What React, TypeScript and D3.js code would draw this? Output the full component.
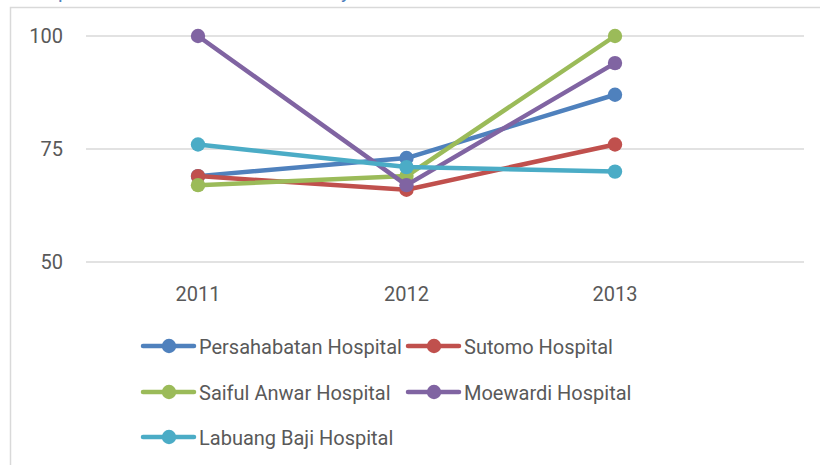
import * as d3 from 'd3'
import React from 'react'

const years = ['2011', '2012', '2013']
const hospitals = ['Persahabatan Hospital', 'Sutomo Hospital', 'Saiful Anwar Hospital', 'Moewardi Hospital', 'Labuang Baji Hospital']
const persahabatan = [69, 73, 87]
const sutomo = [69, 66, 76]
const saifulAnwar = [67, 69, 100]
const moewardi = [100, 67, 94]
const labuangBaji = [76, 71, 70]
const yTicks = [50, 75, 100]
const colors = ['#4F81BD', '#C0504D', '#9BBB59', '#8064A2', '#4BACC6']

const W = 820, H = 465
const font = "Roboto, 'Open Sans', sans-serif"

export default function App() {
  const
    series = [persahabatan, sutomo, saifulAnwar, moewardi, labuangBaji],
    x = d3.scalePoint<string>().domain(years).range([198, 615]),
    y = d3.scaleLinear().domain([50, 100]).range([262, 36]),
    line = d3.line<number>().x((_, i) => x(years[i])!).y(d => y(d)),
    legendPos = [[143, 346], [408, 346], [143, 392], [408, 392], [143, 437]]

  return (
    <svg width={W} height={H} style={{ position: 'absolute', left: 0, top: 0, background: '#fff' }}>
      <g fill='#4F81BD' fontFamily={font} fontSize={20}>
        <text x={58} y={-2}>p</text>
        <text x={341} y={-2}>y</text>
      </g>
      <path d={`M10.5,${H} V7.5 H${W}`} fill='none' stroke='#d9d9d9' strokeWidth={1.5} />
      {yTicks.map(t => (
        <g key={t}>
          <line x1={86} x2={804} y1={y(t)} y2={y(t)} stroke='#d9d9d9' strokeWidth={1.5} />
          <text x={63} y={y(t) + 7} textAnchor='end' fill='#595959' fontFamily={font} fontSize={20}>{t}</text>
        </g>
      ))}
      {years.map(yr => (
        <text key={yr} x={x(yr)} y={301} textAnchor='middle' fill='#595959' fontFamily={font} fontSize={20}>{yr}</text>
      ))}
      {series.map((s, i) => (
        <g key={hospitals[i]}>
          <path d={line(s)!} fill='none' stroke={colors[i]} strokeWidth={4.5} strokeLinejoin='round' />
          {s.map((v, j) => <circle key={j} cx={x(years[j])} cy={y(v)} r={7.2} fill={colors[i]} />)}
        </g>
      ))}
      {hospitals.map((h, i) => {
        const [lx, ly] = legendPos[i]
        return (
          <g key={h} transform={`translate(${lx},${ly})`}>
            <line x1={0} x2={51} y1={0} y2={0} stroke={colors[i]} strokeWidth={4.5} strokeLinecap='round' />
            <circle cx={26} cy={0} r={7.2} fill={colors[i]} />
            <text x={56} y={7.5} fill='#595959' fontFamily={font} fontSize={20}>{h}</text>
          </g>
        )
      })}
    </svg>
  )
}
